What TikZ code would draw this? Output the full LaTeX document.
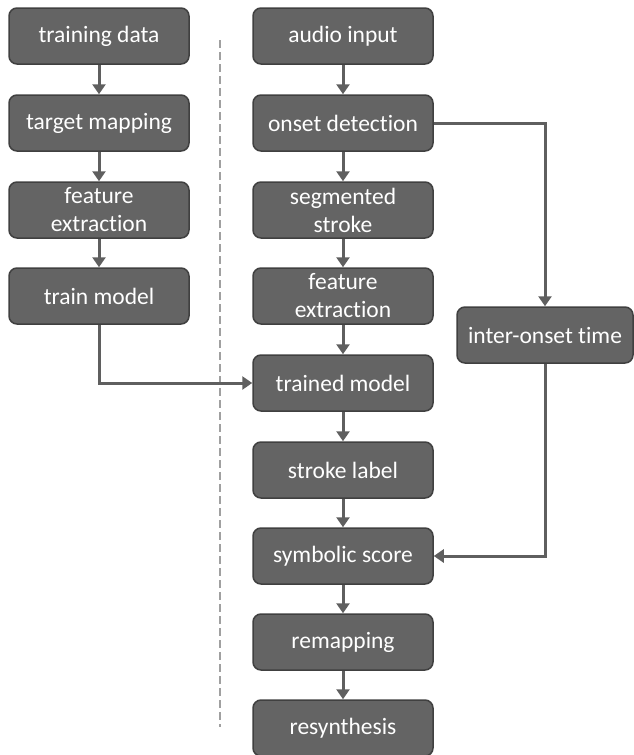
\documentclass[tikz,border=0pt]{standalone}
\usepackage{fontspec}
\setmainfont{Carlito}[Ligatures={NoCommon}]
\usetikzlibrary{arrows.meta}
\definecolor{boxfill}{HTML}{646464}
\definecolor{boxline}{HTML}{404040}
\definecolor{arrowc}{HTML}{5F5F5F}
\definecolor{dashc}{HTML}{A0A0A0}
\begin{document}
\begin{tikzpicture}[x=1pt,y=-1pt,
  box/.style={draw=boxline, line width=1.5pt, fill=boxfill, rounded corners=8pt,
    minimum width=180pt, minimum height=56pt, text=white,
    font=\fontsize{23.5}{28}\selectfont, align=center, inner sep=0pt},
  arr/.style={draw=arrowc, line width=3pt, -{Triangle[length=10pt,width=13pt]}},
  sep/.style={draw=dashc, line width=1.5pt, dash pattern=on 8pt off 4pt}]
\useasboundingbox (0,0) rectangle (634,755);
% left column
\node[box] (td) at (99,36) {training data};
\node[box] (tm) at (99,123) {target mapping};
\node[box] (fe1) at (99,210) {feature\\extraction};
\node[box] (trm) at (99,296) {train model};
% right column
\node[box] (ai) at (343,36) {audio input};
\node[box] (od) at (343,123) {onset detection};
\node[box] (ss) at (343,210) {segmented\\stroke};
\node[box] (fe2) at (343,296) {feature\\extraction};
\node[box] (tdm) at (343,383) {trained model};
\node[box] (sl) at (343,470) {stroke label};
\node[box] (sc) at (343,556) {symbolic score};
\node[box] (rm) at (343,642) {remapping};
\node[box] (rs) at (343,728) {resynthesis};
% side
\node[box, minimum width=176pt] (io) at (545,335) {inter-onset time};
% separator
\coordinate (d1) at (220,40);
\coordinate (d2) at (220,727);
\draw[sep] (d1) -- (d2);
% arrows
\draw[arr] (td) -- (tm);
\draw[arr] (tm) -- (fe1);
\draw[arr] (fe1) -- (trm);
\draw[arr] (ai) -- (od);
\draw[arr] (od) -- (ss);
\draw[arr] (ss) -- (fe2);
\draw[arr] (fe2) -- (tdm);
\draw[arr] (tdm) -- (sl);
\draw[arr] (sl) -- (sc);
\draw[arr] (sc) -- (rm);
\draw[arr] (rm) -- (rs);
\draw[arr] (trm.south) |- (tdm.west);
\draw[arr] (od.east) -| (io.north);
\draw[arr] (io.south) |- (sc.east);
\end{tikzpicture}
\end{document}
